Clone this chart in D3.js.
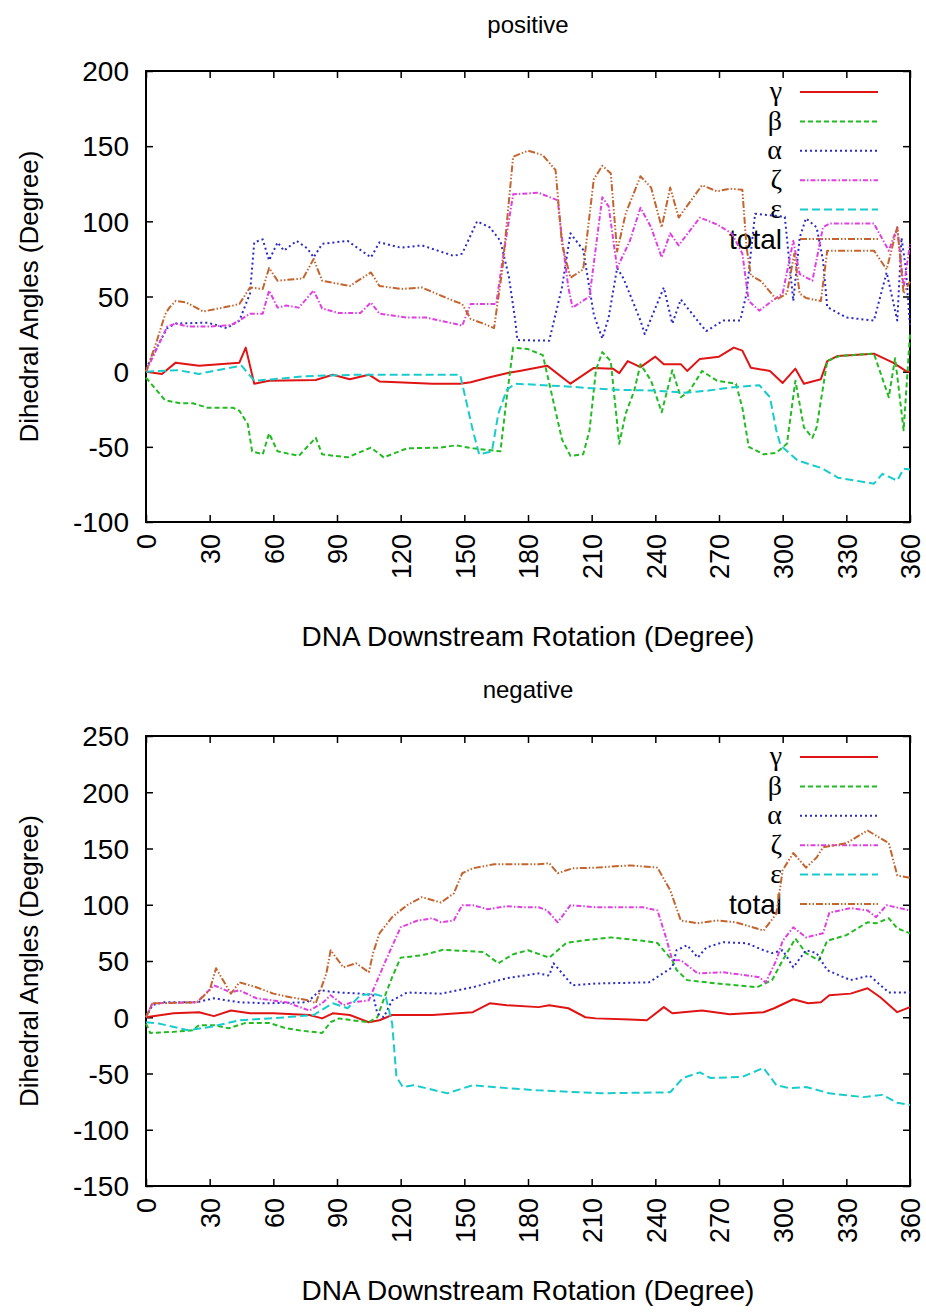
<!DOCTYPE html>
<html>
<head>
<meta charset="utf-8">
<script src="https://cdn.jsdelivr.net/npm/d3@7"></script>
<style>
  body { margin: 0; background: #fff; }
  svg text { font-family: "Liberation Sans", Arial, sans-serif; fill: #000; }
</style>
</head>
<body>
<svg id="chart" width="926" height="1314"></svg>
<script>
// Dihedral angle changes vs DNA downstream rotation, two panels (gnuplot look)

var xTicks = [0, 30, 60, 90, 120, 150, 180, 210, 240, 270, 300, 330, 360];
var posTicks = [-100, -50, 0, 50, 100, 150, 200];
var negTicks = [-150, -100, -50, 0, 50, 100, 150, 200, 250];
var seriesNames = ["γ", "β", "α", "ζ", "ε", "total"];

// [rotation, angle] pairs
var posGamma = [[0,0],[7.5,-1.5],[14,6],[25,4],[44,6],[47,16],[51,-8],[58,-6],[80,-5.5],[88,-2],[96,-5],[105,-2],[110,-6.5],[135,-8],[148,-8],[153,-7],[161,-4],[171,-0.7],[176,0.5],[189,4],[200,-8],[211,2.5],[220,2],[223,-1],[227,7],[233,3],[240,10],[244,5],[252,5],[255,0.5],[261,8.5],[270,10],[277,16],[281,14],[285,2.6],[294,0.5],[300,-7.5],[306,2],[310,-8],[318,-5],[321,7],[326,10.5],[343,12],[352,6],[358,0.5],[360,0]];
var posBeta = [[0,-4],[9,-19],[16,-21],[22,-21],[29,-24],[41,-24],[44,-26],[48,-35],[50,-53],[55,-55],[58,-41],[62,-53],[72,-56],[80,-44],[83,-55],[95,-57],[106,-50.5],[112,-57],[123,-51],[139,-50.5],[146,-49],[154,-51],[167,-53],[170,-17],[173,16],[180,15],[187,11],[196,-45],[200,-56],[206,-55],[209,-39],[212,1],[215,13],[219,7],[223,-48],[226,-28],[230,-13],[233,5],[238,-6],[243,-27],[248,1],[252,-17],[256,-13],[262,0.5],[269,-6],[278,-8],[281,-24],[284,-50],[291,-55],[297,-54],[302,-48],[306,-6],[310,-37],[314,-44],[316,-37],[321,7],[327,10.5],[343,12],[350,-17],[353,9],[357,-39],[360,25]];
var posAlpha = [[0,2],[6,18.6],[10,29],[14,32],[29,32.6],[38,29],[44,34],[49,52],[51,86],[55,88],[58,74],[62,86],[65,80.5],[71,87],[76,82],[79,76],[83,85],[95,87],[106,76],[110,86],[120,82.5],[130,84],[145,77],[149,78.5],[156,100],[162,96],[167,87],[171,63],[174,34],[175,21],[190,20.6],[196,56],[200,92],[206,81],[211,38],[215,22],[218,36],[222,69],[225,62],[233,34],[235,25],[244,56],[248,32],[252,48],[261,32],[264,27],[272,34],[280,34],[283,52],[285,79],[287,105],[301,103],[305,47],[308,89],[311,102],[316,96],[319,74],[321,43],[330,36],[343,34],[349,66],[354,34],[356,89],[358,69],[360,30]];
var posZeta = [[0,0],[5,15],[10,30],[14,32],[20,30],[30,30],[40,31],[45,35],[49,38.6],[55,38.6],[58,54],[62,42.6],[66,44],[72,42.6],[79,54],[83,42],[91,39],[101,39],[106,46],[110,38.6],[123,36],[132,36],[145,32],[149,30.6],[153,45],[165,45],[168,74],[173,118],[185,119],[194,114],[196,89],[199,56],[201,42.6],[209,50],[215,116],[218,110],[222,69],[228,87],[233,109],[238,96],[243,76],[247,92],[251,84],[261,102.5],[269,98],[276,92],[281,78.5],[284,47],[289,40.6],[295,47],[300,52],[305,87],[308,65],[314,60.5],[319,96],[322,98.5],[343,98.5],[350,80.5],[354,96],[357,56],[360,85]];
var posEps = [[0,0],[15,1],[25,-1.5],[30,0],[45,4],[51,-6],[60,-5],[75,-3],[100,-2],[148,-2],[149,-8],[154,-39],[157,-55],[163,-53],[166,-28],[170,-12],[174,-8],[200,-10],[220,-12],[240,-12.6],[254,-14],[265,-12.6],[275,-10.6],[289,-9],[294,-17],[297,-39],[299,-49],[307,-59],[318,-64],[326,-70.5],[343,-74.5],[347,-68],[354,-72.5],[357,-64.6],[360,-65]];
var posTotal = [[0,0],[5,20],[9,38],[11,42.6],[14,47],[19,46],[27,40],[41,44],[44,45],[49,56],[55,55],[58,69],[62,60.5],[74,62],[79,75],[83,60.5],[96,57],[106,66],[110,57],[120,55],[130,56],[145,47],[149,45],[153,35],[159,32],[164,29],[168,69],[173,143],[180,147],[187,144],[193,134],[196,85],[200,62.5],[206,68],[211,128],[215,137],[219,132],[222,80],[226,105],[233,130],[238,122.5],[243,96],[247,122.5],[251,102.5],[262,124],[269,120],[275,121.7],[281,121],[283,82.5],[285,64],[290,60],[297,48],[302,52],[305.5,78.5],[308,52],[311,49],[318,47],[321,80.5],[343,80.5],[349,68],[354,96],[357,52],[360,60]];

var negGamma = [[0,0],[13,3.5],[25,4.5],[32,1],[40,6],[49,3.5],[60,3.5],[77,2],[83,-1],[88,3.5],[96,2],[105,-4.4],[110,-2.7],[116,2],[135,2],[154,4.5],[162,12.4],[170,10.7],[185,9],[190,10.7],[199,8],[207,0],[212,-1],[228,-2],[236,-2.7],[244,9],[248,3.5],[262,6],[275,2.6],[291,4.5],[296,8],[305,16],[312,12.4],[318,13.3],[322,19.6],[332,21],[340,25.8],[346,17.8],[354,4.5],[360,9]];
var negBeta = [[0,-5.6],[2,-14],[13,-13],[22,-11.6],[25,-7],[32,-7],[39,-9.8],[47,-5],[58,-5],[66,-9.8],[72,-11.6],[83,-14],[87,-4.4],[91,-1],[97,-2.7],[105,-4.4],[109,0],[113,21],[116,35.6],[120,53],[130,55],[140,60],[159,58],[166,48],[173,56],[180,59.6],[190,53],[198,66],[205,68],[219,71],[234,68],[241,66],[245,57],[248,50.6],[250,42],[255,33],[269,30],[288,26.7],[295,33],[300,50.6],[306,70],[311,57],[317,50.6],[321,68],[330,73],[340,84.4],[344,83.5],[350,88],[354,79],[360,74.6]];
var negAlpha = [[0,0],[3,10.7],[8,13.3],[24,13.3],[32,16.9],[44,13.3],[57,12.4],[76,13.3],[82,24],[91,22],[101,21],[107,19.6],[109,3.5],[112,0],[116,15],[123,22],[139,21],[154,26.7],[170,34.7],[185,39],[190,37],[192,48],[201,28.4],[212,30],[237,31],[248,44.4],[250,59.6],[255,64],[260,53],[264,62],[272,66.7],[283,65.8],[291,59.6],[295,57],[300,59.6],[305,44.4],[311,59.6],[316,57],[321,41.8],[332,33],[341,37],[350,22],[360,22]];
var negZeta = [[0,0],[3,12.4],[24,13.3],[32,28.4],[40,22],[44,24],[52,16.9],[66,13.3],[77,6],[83,12.4],[87,19.6],[93,10.7],[97,13.3],[105,15],[107,24],[113,50.6],[120,80],[128,86],[135,88],[139,84.4],[145,86],[149,99.6],[154,99.6],[161,96],[170,98.7],[178,97.8],[185,97.8],[189,95],[194,84.4],[200,99.6],[212,97.8],[234,97.8],[241,95],[245,71],[248,50.6],[252,50.6],[260,39],[272,40],[289,35.6],[292,31],[297,50.6],[300,68],[305,80],[311,71],[319,74.6],[322,93],[332,97],[340,95],[344,89],[349,99.6],[360,95]];
var negEps = [[0,-4.4],[6,-5.6],[20,-11.6],[32,-8],[44,-2.7],[66,0],[79,2],[88,12.4],[95,8],[101,19.6],[107,21],[113,17.8],[116,-5.6],[118,-53],[121,-62],[126,-60.4],[142,-67.6],[154,-60.4],[170,-63],[185,-65],[215,-67.6],[247,-66.7],[253,-54],[261,-49],[266,-54],[281,-53],[291,-45],[297,-60.4],[303,-63],[311,-62],[322,-67.6],[338,-71],[347,-69],[354,-76],[360,-78]];
var negTotal = [[0,0],[3,12.4],[24,13.3],[30,24],[33,43.6],[40,21],[44,31],[52,26.7],[60,21],[68,17.8],[77,15],[80,12.4],[85,39],[87,59.6],[93,44.4],[99,48],[105,40],[107,57],[110,74.6],[116,89],[123,99.6],[130,106.7],[139,102],[145,110],[149,128],[154,132.4],[164,136],[185,136],[190,137],[194,128],[201,132.4],[212,133],[228,135],[241,133],[247,113],[252,86],[260,83.5],[269,86],[278,84.4],[291,77],[297,92],[300,130.7],[305,146],[311,133],[316,142],[319,151],[330,154.7],[340,166],[350,154.7],[354,126],[360,124]];

// line looks, same order as seriesNames
var colors = ["#e01414", "#22bb22", "#2a2ac8", "#e040e0", "#18cccc", "#c4642e"];
var dashes = [null, "5,3", "2,3", "5,2,1.5,2", "8,4", "7,2,1.5,2,1.5,2"];

var svg = d3.select("#chart");

var panels = [
  { title: "positive", top: 71, bottom: 522, ticks: posTicks, domain: [-100, 200], xlabelY: 646,
    series: [posGamma, posBeta, posAlpha, posZeta, posEps, posTotal] },
  { title: "negative", top: 736, bottom: 1186, ticks: negTicks, domain: [-150, 250], xlabelY: 1300,
    series: [negGamma, negBeta, negAlpha, negZeta, negEps, negTotal] }
];

var left = 146, right = 910;
var plainNum = function(d) { return String(d); };  // gnuplot uses a plain hyphen

panels.forEach(function(p) {
  var x = d3.scaleLinear().domain([0, 360]).range([left, right]);
  var y = d3.scaleLinear().domain(p.domain).range([p.bottom, p.top]);
  var g = svg.append("g");

  // title
  g.append("text")
    .attr("x", (left + right) / 2).attr("y", p.top - 38)
    .attr("text-anchor", "middle").style("font-size", "24px")
    .text(p.title);

  // ticks, inside on all four sides
  var bx = g.append("g").attr("transform", "translate(0," + p.bottom + ")")
    .call(d3.axisBottom(x).tickValues(xTicks).tickSize(-7).tickFormat(plainNum));
  bx.selectAll("text")
    .attr("transform", "rotate(-90)")
    .attr("text-anchor", "end")
    .attr("x", -12).attr("y", 0).attr("dy", "0.36em")
    .style("font-size", "27px");
  g.append("g").attr("transform", "translate(0," + p.top + ")")
    .call(d3.axisTop(x).tickValues(xTicks).tickSize(-7).tickFormat(""));
  var ly = g.append("g").attr("transform", "translate(" + left + ",0)")
    .call(d3.axisLeft(y).tickValues(p.ticks).tickSize(-7).tickPadding(17).tickFormat(plainNum));
  ly.selectAll("text").style("font-size", "28px").attr("dy", "0.35em");
  g.append("g").attr("transform", "translate(" + right + ",0)")
    .call(d3.axisRight(y).tickValues(p.ticks).tickSize(-7).tickFormat(""));
  g.selectAll(".domain").remove();
  g.selectAll(".tick line").attr("stroke", "#000").attr("stroke-width", 1.5);

  g.append("rect")
    .attr("x", left).attr("y", p.top)
    .attr("width", right - left).attr("height", p.bottom - p.top)
    .attr("fill", "none").attr("stroke", "#000").attr("stroke-width", 2);

  // axis labels
  g.append("text")
    .attr("transform", "translate(38," + ((p.top + p.bottom) / 2) + ") rotate(-90)")
    .attr("text-anchor", "middle").style("font-size", "26px")
    .text("Dihedral Angles (Degree)");
  g.append("text")
    .attr("x", (left + right) / 2).attr("y", p.xlabelY)
    .attr("text-anchor", "middle").style("font-size", "28px")
    .text("DNA Downstream Rotation (Degree)");

  // key
  var key = g.append("g");
  seriesNames.forEach(function(name, i) {
    var ky = p.top + 21 + i * 29.4;
    var isGreek = name !== "total";
    key.append("text")
      .attr("x", 782).attr("y", ky).attr("dy", isGreek ? "0.3em" : "0.35em")
      .attr("text-anchor", "end")
      .style("font-size", "28px")
      .style("font-family", isGreek ? "'Liberation Serif', 'DejaVu Serif', serif" : null)
      .text(name);
    key.append("line")
      .attr("x1", 800).attr("x2", 878).attr("y1", ky).attr("y2", ky)
      .attr("stroke", colors[i]).attr("stroke-width", 2)
      .attr("stroke-dasharray", dashes[i]);
  });

  // curves
  var line = d3.line().x(function(d) { return x(d[0]); }).y(function(d) { return y(d[1]); });
  p.series.forEach(function(s, i) {
    g.append("path")
      .datum(s)
      .attr("d", line)
      .attr("fill", "none")
      .attr("stroke", colors[i])
      .attr("stroke-width", 2)
      .attr("stroke-linejoin", "round")
      .attr("stroke-dasharray", dashes[i]);
  });
});
</script>
</body>
</html>
